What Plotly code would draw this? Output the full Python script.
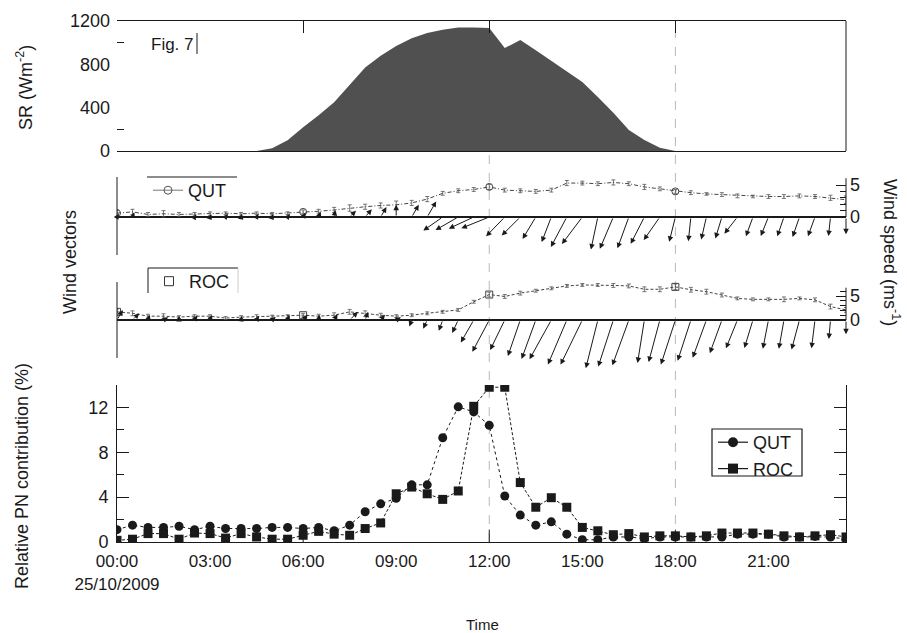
import math
import plotly.graph_objects as go

# ---------------- data ----------------
hours = [i * 0.5 for i in range(48)]          # 00:00 ... 23:30, half-hourly
time_ticks = [0, 3, 6, 9, 12, 15, 18, 21]
time_labels = ["00:00<br>25/10/2009", "03:00", "06:00", "09:00",
               "12:00", "15:00", "18:00", "21:00"]

# Solar radiation (W m-2)
sr = [0, 0, 0, 0, 0, 0, 0, 0, 0, 0,
      25, 100, 220, 330, 450, 610, 770, 880, 970, 1040,
      1090, 1120, 1140, 1140, 1135, 950, 1025, 930, 834, 732,
      637, 498, 354, 194, 102, 31, 0, 0, 0, 0,
      0, 0, 0, 0, 0, 0, 0, 0]

# Wind speed (m s-1), its spread, and direction the vector points to (deg clockwise from north)
qut_ws = [0.6, 0.8, 0.4, 0.5, 0.4, 0.5, 0.5, 0.6, 0.5, 0.6,
          0.5, 0.6, 0.8, 0.9, 1.1, 1.4, 1.6, 1.8, 1.9, 2.2,
          2.8, 3.7, 4.1, 4.3, 4.7, 4.2, 4.1, 4.0, 4.2, 5.3,
          5.3, 5.2, 5.4, 5.2, 4.7, 4.4, 4.0, 3.8, 3.6, 3.5,
          3.3, 3.2, 3.2, 3.2, 3.3, 3.2, 3.0, 2.7]
qut_ws_sd = [0.5, 0.4, 0.3, 0.5, 0.3, 0.2, 0.3, 0.2, 0.2, 0.2,
             0.2, 0.2, 0.3, 0.3, 0.4, 0.5, 0.4, 0.4, 0.6, 0.4,
             0.4, 0.3, 0.3, 0.3, 0.4, 0.3, 0.3, 0.3, 0.3, 0.4,
             0.3, 0.3, 0.4, 0.3, 0.4, 0.3, 0.3, 0.3, 0.2, 0.3,
             0.3, 0.2, 0.3, 0.3, 0.3, 0.3, 0.4, 0.6]
qut_dir = [30, 20, 0, 40, 10, 30, 20, 40, 10, 30,
           20, 40, 30, 20, 10, 45, 40, 30, 0, 30,
           30, 235, 240, 245, 248, 224, 225, 211, 201, 208,
           217, 192, 203, 200, 207, 215, 194, 186, 193, 197,
           218, 200, 202, 199, 199, 200, 186, 180]

roc_ws = [1.7, 1.4, 0.8, 0.8, 0.6, 0.8, 0.8, 0.4, 0.6, 0.7,
          0.7, 0.8, 1.0, 0.8, 1.0, 1.7, 1.3, 1.0, 0.8, 1.0,
          1.4, 1.7, 2.1, 3.8, 5.3, 4.9, 5.6, 6.1, 6.6, 7.1,
          7.3, 7.3, 7.2, 7.1, 6.4, 6.4, 6.9, 6.3, 5.9, 5.2,
          4.5, 4.3, 4.3, 4.3, 4.5, 4.2, 2.8, 2.1]
roc_ws_sd = [0.6, 0.5, 0.4, 0.5, 0.3, 0.3, 0.3, 0.3, 0.3, 0.4,
             0.3, 0.3, 0.4, 0.4, 0.5, 0.5, 0.6, 0.4, 0.3, 0.3,
             0.3, 0.3, 0.3, 0.3, 0.5, 0.4, 0.4, 0.3, 0.3, 0.3,
             0.3, 0.3, 0.4, 0.4, 0.5, 0.5, 0.6, 0.5, 0.5, 0.4,
             0.3, 0.3, 0.3, 0.5, 0.3, 0.4, 0.5, 0.5]
roc_dir = [30, 45, 20, 60, 0, 30, 20, 40, 10, 30,
           50, 20, 40, 10, 30, 45, 20, 40, 60, 200,
           205, 200, 205, 210, 208, 206, 199, 200, 209, 203,
           206, 194, 198, 200, 189, 195, 198, 198, 200, 200,
           202, 197, 191, 190, 195, 187, 185, 180]

# Relative PN contribution (%)
qut_pn = [1.1, 1.5, 1.3, 1.3, 1.4, 1.1, 1.4, 1.2, 1.2, 1.2,
          1.3, 1.3, 1.2, 1.3, 1.0, 1.5, 2.7, 3.4, 3.9, 5.1,
          5.1, 9.3, 12.05, 11.6, 10.4, 4.1, 2.4, 1.5, 1.8, 0.7,
          0.2, 0.2, 0.45, 0.45, 0.3, 0.45, 0.45, 0.45, 0.45, 0.45,
          0.7, 0.7, 0.7, 0.45, 0.45, 0.5, 0.45, 0.25]
roc_pn = [0.15, 0.25, 0.75, 0.75, 0.25, 0.8, 0.75, 0.35, 0.75, 0.45,
          0.25, 0.25, 0.6, 0.95, 0.7, 0.6, 1.2, 1.7, 4.3, 4.9,
          4.3, 3.8, 4.55, 12.1, 13.8, 13.8, 5.3, 3.1, 3.95, 3.1,
          1.3, 1.0, 0.65, 0.75, 0.45, 0.55, 0.55, 0.45, 0.55, 0.8,
          0.8, 0.8, 0.7, 0.55, 0.45, 0.55, 0.65, 0.45]

# ---------------- layout geometry ----------------
W, H = 907, 633
ML, MR, MT, MB = 117, 61, 21, 91
PW = W - ML - MR
PH = H - MT - MB
FONT = "Liberation Sans, Arial, sans-serif"
INK = "#1a1a1a"
FS = 18
XR = [0, 23.5]


def px_x(px):
    return (px - ML) / PW


def px_y(py):
    return (H - MB - py) / PH


def dom(top, bot):
    return [px_y(bot), px_y(top)]


# wind panels: pixel rows of top, zero line, bottom
QUT_TOP, QUT_ZERO, QUT_BOT = 177, 217, 255
ROC_TOP, ROC_ZERO, ROC_BOT = 282, 320, 358
QUT_PXU = 6.4   # px per m/s on the speed axis
ROC_PXU = 4.8
qut_range = [-(QUT_BOT - QUT_ZERO) / QUT_PXU, (QUT_ZERO - QUT_TOP) / QUT_PXU]
roc_range = [-(ROC_BOT - ROC_ZERO) / ROC_PXU, (ROC_ZERO - ROC_TOP) / ROC_PXU]
PX_PER_HOUR = PW / (XR[1] - XR[0])

fig = go.Figure()

# --- SR panel ---
fig.add_trace(go.Scatter(x=hours, y=sr, xaxis="x4", yaxis="y4", mode="lines",
                         line=dict(width=0, color="#505050"), fill="tozeroy",
                         fillcolor="#505050", showlegend=False, hoverinfo="skip"))

# --- wind speed lines ---
mark_idx = [0, 12, 24, 36]
err_style = dict(type="data", thickness=0.8, width=2, color="#555")
fig.add_trace(go.Scatter(x=hours, y=qut_ws, xaxis="x2", yaxis="y2", mode="lines",
                         line=dict(color="#444", width=1, dash="4px,2px,1px,2px"),
                         error_y=dict(array=qut_ws_sd, **err_style),
                         showlegend=False))
fig.add_trace(go.Scatter(x=[hours[i] for i in mark_idx], y=[qut_ws[i] for i in mark_idx],
                         xaxis="x2", yaxis="y2", mode="markers",
                         marker=dict(symbol="circle-open", size=7, color="#444", line=dict(width=1)),
                         showlegend=False))
fig.add_trace(go.Scatter(x=hours, y=roc_ws, xaxis="x3", yaxis="y3", mode="lines",
                         line=dict(color="#444", width=1, dash="3px,2px"),
                         error_y=dict(array=roc_ws_sd, **err_style),
                         showlegend=False))
fig.add_trace(go.Scatter(x=[hours[i] for i in mark_idx], y=[roc_ws[i] for i in mark_idx],
                         xaxis="x3", yaxis="y3", mode="markers",
                         marker=dict(symbol="square-open", size=7, color="#444", line=dict(width=1)),
                         showlegend=False))

# legend-only entries for wind panels
fig.add_trace(go.Scatter(x=[None], y=[None], xaxis="x2", yaxis="y2", mode="lines+markers",
                         name="QUT", legend="legend2",
                         line=dict(color="#777", width=1),
                         marker=dict(symbol="circle-open", size=8, color="#555")))
fig.add_trace(go.Scatter(x=[None], y=[None], xaxis="x3", yaxis="y3", mode="markers",
                         name="ROC", legend="legend3",
                         marker=dict(symbol="square-open", size=9, color="#333")))

# --- PN panel ---
fig.add_trace(go.Scatter(x=hours, y=qut_pn, xaxis="x", yaxis="y", mode="lines+markers",
                         line=dict(color=INK, width=1, dash="dot"),
                         marker=dict(symbol="circle", size=9, color=INK),
                         showlegend=False))
fig.add_trace(go.Scatter(x=hours, y=roc_pn, xaxis="x", yaxis="y", mode="lines+markers",
                         line=dict(color=INK, width=1, dash="3px,2px"),
                         marker=dict(symbol="square", size=9, color=INK),
                         showlegend=False))
fig.add_trace(go.Scatter(x=[None], y=[None], mode="lines+markers", name="QUT",
                         line=dict(color=INK, width=1.2),
                         marker=dict(symbol="circle", size=10, color=INK)))
fig.add_trace(go.Scatter(x=[None], y=[None], mode="lines+markers", name="ROC",
                         line=dict(color=INK, width=1.2),
                         marker=dict(symbol="square", size=10, color=INK)))

# --- wind vectors as arrows ---
annotations = []


def add_vectors(ws, wd, xref, yref, pxu, vec_px):
    for t, s, d in zip(hours, ws, wd):
        L = vec_px * s
        dx_px = L * math.sin(math.radians(d))
        dy_px = L * math.cos(math.radians(d))
        annotations.append(dict(
            x=t + dx_px / PX_PER_HOUR, y=dy_px / pxu, ax=t, ay=0,
            xref=xref, yref=yref, axref=xref, ayref=yref,
            text="", showarrow=True, arrowhead=2, arrowsize=1.1,
            arrowwidth=1, arrowcolor=INK))


add_vectors(qut_ws, qut_dir, "x2", "y2", QUT_PXU, 6.4)
add_vectors(roc_ws, roc_dir, "x3", "y3", ROC_PXU, 6.8)

tf = dict(family=FONT, size=FS, color=INK)
ctr = dict(xref="paper", yref="paper", xanchor="center", yanchor="middle", showarrow=False)
annotations += [
    dict(text="Fig. 7", x=px_x(149), y=px_y(44), xref="paper", yref="paper",
         xanchor="left", yanchor="middle", showarrow=False,
         font=dict(family=FONT, size=17, color=INK)),
    dict(text="SR (Wm<sup>-2</sup>)", x=px_x(24), y=px_y(88), textangle=-90, font=tf, **ctr),
    dict(text="Wind vectors", x=px_x(70), y=px_y(262), textangle=-90, font=tf, **ctr),
    dict(text="Relative PN contribution (%)", x=px_x(22), y=px_y(476), textangle=-90,
         font=tf, **ctr),
    dict(text="Wind speed (ms<sup>-1</sup>)", x=px_x(892), y=px_y(252), textangle=90,
         font=tf, **ctr),
    dict(text="Time", x=px_x(482), y=px_y(624), font=dict(family=FONT, size=15, color=INK), **ctr),
]

line_k = dict(color=INK, width=1)
shapes = [
    # dashed time grid lines
    dict(type="line", xref="x", yref="paper", x0=12, x1=12, y0=0, y1=1,
         line=dict(color="#b8b8b8", width=1, dash="dash"), layer="below"),
    dict(type="line", xref="x", yref="paper", x0=18, x1=18, y0=0, y1=1,
         line=dict(color="#b8b8b8", width=1, dash="dash"), layer="below"),
    # SR panel right border
    dict(type="line", xref="paper", yref="y4 domain", x0=1, x1=1, y0=0, y1=1, line=line_k),
    # Fig. 7 box edge
    dict(type="line", xref="paper", yref="paper", x0=px_x(197), x1=px_x(197),
         y0=px_y(54), y1=px_y(33), line=line_k),
    # wind panels: left border and right speed-axis line
    dict(type="line", xref="paper", yref="y2 domain", x0=0, x1=0, y0=0, y1=1, line=line_k),
    dict(type="line", xref="paper", yref="y2", x0=1, x1=1, y0=0, y1=qut_range[1] * 0.97, line=line_k),
    dict(type="line", xref="paper", yref="y3 domain", x0=0, x1=0, y0=0, y1=1, line=line_k),
    dict(type="line", xref="paper", yref="y3", x0=1, x1=1, y0=0, y1=roc_range[1] * 0.85, line=line_k),
    # wind legend frames
    dict(type="line", xref="paper", yref="paper", x0=px_x(147), x1=px_x(237),
         y0=px_y(177), y1=px_y(177), line=line_k),
    dict(type="line", xref="paper", yref="paper", x0=px_x(148), x1=px_x(238),
         y0=px_y(268), y1=px_y(268), line=line_k),
    dict(type="line", xref="paper", yref="paper", x0=px_x(148), x1=px_x(148),
         y0=px_y(268), y1=px_y(293), line=line_k),
    dict(type="line", xref="paper", yref="paper", x0=px_x(238), x1=px_x(238),
         y0=px_y(268), y1=px_y(293), line=dict(color="#ccc", width=1)),
    # PN legend frame
    dict(type="rect", xref="paper", yref="paper", x0=px_x(712), x1=px_x(802),
         y0=px_y(476), y1=px_y(429), line=dict(color=INK, width=1.2),
         fillcolor="rgba(0,0,0,0)", layer="above"),
]
# x tick marks on the PN panel
for tv in (6, 12, 18):
    shapes.append(dict(type="line", xref="x", yref="y", x0=tv, x1=tv, y0=0, y1=1.1, line=line_k))

tickfont = dict(family=FONT, size=FS, color=INK)
hidden_x = dict(range=XR, showline=False, showticklabels=False, ticks="",
                showgrid=False, zeroline=False)

fig.update_layout(
    width=W, height=H,
    margin=dict(l=ML, r=MR, t=MT, b=MB),
    paper_bgcolor="white", plot_bgcolor="rgba(0,0,0,0)",
    font=dict(family=FONT, size=FS, color=INK),
    xaxis=dict(range=XR, domain=[0, 1], anchor="y", showline=True, linecolor=INK,
               linewidth=1, ticks="", tickvals=time_ticks, ticktext=time_labels,
               tickfont=dict(family=FONT, size=17, color=INK), ticklabelstandoff=4,
               showgrid=False, zeroline=False),
    yaxis=dict(range=[0, 14], domain=dom(385, 542), anchor="x", showline=True,
               linecolor=INK, linewidth=1, mirror="ticks", ticks="inside", ticklen=12,
               tickcolor=INK, tickvals=[0, 4, 8, 12], tickfont=tickfont,
               ticklabelstandoff=4,
               minor=dict(tickvals=[2, 6, 10], ticks="inside", ticklen=7, tickcolor=INK),
               showgrid=False, zeroline=False),
    xaxis2=dict(anchor="y2", domain=[0, 1], **hidden_x),
    yaxis2=dict(range=qut_range, domain=dom(QUT_TOP, QUT_BOT), anchor="x2", side="right",
                showline=False, ticks="inside", ticklen=10, tickcolor=INK,
                tickvals=[0, 5], tickfont=tickfont, ticklabelstandoff=3,
                minor=dict(tickvals=[1, 2, 3, 4], ticks="inside", ticklen=6, tickcolor=INK),
                showgrid=False, zeroline=True, zerolinecolor=INK, zerolinewidth=1.5),
    xaxis3=dict(anchor="y3", domain=[0, 1], **hidden_x),
    yaxis3=dict(range=roc_range, domain=dom(ROC_TOP, ROC_BOT), anchor="x3", side="right",
                showline=False, ticks="inside", ticklen=10, tickcolor=INK,
                tickvals=[0, 5], tickfont=tickfont, ticklabelstandoff=3,
                minor=dict(tickvals=[1, 2, 3, 4, 6], ticks="inside", ticklen=6, tickcolor=INK),
                showgrid=False, zeroline=True, zerolinecolor=INK, zerolinewidth=1.5),
    xaxis4=dict(range=XR, domain=[0, 1], anchor="y4", side="top", showline=True,
                mirror=True, linecolor=INK, linewidth=1, ticks="inside", ticklen=12,
                tickcolor=INK, tickvals=[6, 12, 18], showticklabels=False,
                showgrid=False, zeroline=False),
    yaxis4=dict(range=[0, 1200], domain=dom(21, 151), anchor="x4", showline=False,
                mirror="ticks", ticks="", tickvals=[0, 400, 800, 1200], tickfont=tickfont,
                ticklabelstandoff=6,
                minor=dict(tickvals=[200, 1000], ticks="inside", ticklen=7, tickcolor=INK),
                showgrid=False, zeroline=False),
    legend=dict(x=px_x(713), y=px_y(424), xanchor="left", yanchor="top",
                borderwidth=0, bgcolor="rgba(0,0,0,0)",
                font=dict(family=FONT, size=FS, color=INK), itemwidth=30,
                tracegroupgap=0),
    legend2=dict(x=px_x(148), y=px_y(172), xanchor="left", yanchor="top",
                 borderwidth=0, bgcolor="rgba(0,0,0,0)",
                 font=dict(family=FONT, size=FS, color=INK), itemwidth=30),
    legend3=dict(x=px_x(149), y=px_y(263), xanchor="left", yanchor="top",
                 borderwidth=0, bgcolor="rgba(0,0,0,0)",
                 font=dict(family=FONT, size=FS, color=INK), itemwidth=30),
    annotations=annotations,
    shapes=shapes,
)

fig.write_html("out.html")
